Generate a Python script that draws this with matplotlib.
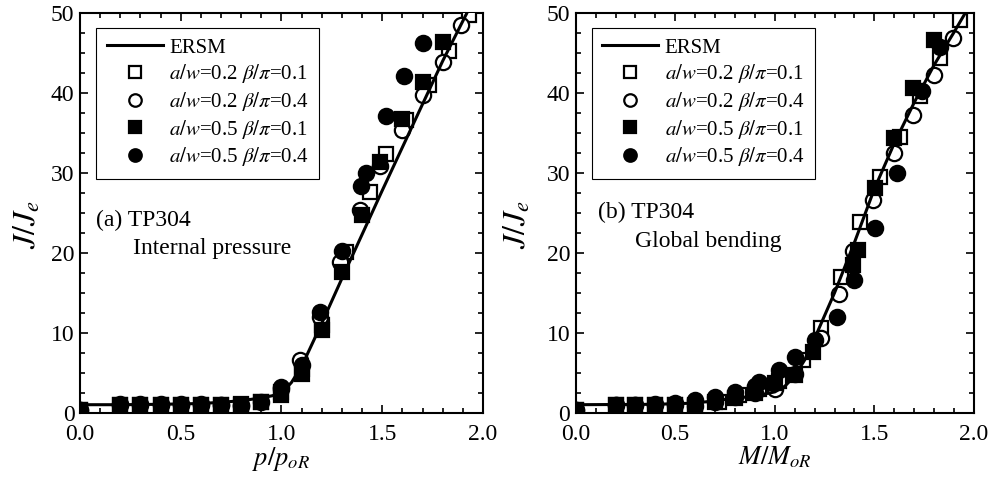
# J/Je vs load ratio, TP304 pipe, ERSM vs FE results
import matplotlib
matplotlib.use('Agg')
import matplotlib.pyplot as plt
from matplotlib.ticker import MultipleLocator

plt.rcParams['font.family'] = 'Liberation Serif'
plt.rcParams['mathtext.fontset'] = 'stix'

labels = ['ERSM',
          r'$a/w$=0.2 $\beta/\pi$=0.1',
          r'$a/w$=0.2 $\beta/\pi$=0.4',
          r'$a/w$=0.5 $\beta/\pi$=0.1',
          r'$a/w$=0.5 $\beta/\pi$=0.4']

# (a) internal pressure
ersm_a_x = [0.0, 0.2, 0.4, 0.6, 0.7, 0.8, 0.9, 0.95, 1.0, 1.05, 1.1, 1.15, 1.2, 1.3, 1.4, 1.5, 1.6, 1.7, 1.8, 1.9, 1.96]
ersm_a_y = [1.0, 1.0, 1.05, 1.15, 1.3, 1.5, 1.85, 2.1, 2.4, 3.8, 5.8, 8.5, 11.2, 16.8, 22.3, 27.8, 33.2, 38.6, 44.0, 49.0, 52.0]

sq02_a_x = [0.0, 0.2, 0.3, 0.4, 0.5, 0.6, 0.7, 0.8, 0.9, 1.0, 1.1, 1.2, 1.32, 1.44, 1.52, 1.62, 1.73, 1.83, 1.93]
sq02_a_y = [0.3, 1.0, 1.0, 1.0, 1.0, 1.0, 1.0, 1.1, 1.3, 2.6, 5.5, 11.0, 20.1, 27.6, 32.3, 36.6, 41.0, 45.2, 49.8]
ci02_a_x = [0.0, 0.2, 0.3, 0.4, 0.5, 0.6, 0.7, 0.8, 0.9, 1.0, 1.09, 1.19, 1.29, 1.39, 1.49, 1.6, 1.7, 1.8, 1.89]
ci02_a_y = [0.3, 1.0, 1.0, 1.0, 1.0, 1.0, 1.0, 1.0, 1.3, 3.0, 6.6, 12.0, 18.9, 25.4, 30.8, 35.4, 39.8, 43.9, 48.5]
sq05_a_x = [0.0, 0.2, 0.3, 0.4, 0.5, 0.6, 0.7, 0.8, 0.9, 1.0, 1.1, 1.2, 1.3, 1.4, 1.49, 1.6, 1.7, 1.8]
sq05_a_y = [0.3, 1.0, 1.0, 1.0, 1.0, 1.0, 1.0, 1.0, 1.3, 2.2, 4.9, 10.4, 17.6, 24.7, 31.4, 36.8, 41.4, 46.4]
ci05_a_x = [0.0, 0.2, 0.3, 0.4, 0.5, 0.6, 0.7, 0.8, 1.0, 1.1, 1.19, 1.3, 1.395, 1.42, 1.52, 1.61, 1.7]
ci05_a_y = [0.3, 1.1, 1.1, 1.1, 1.1, 1.1, 1.0, 0.9, 3.2, 6.0, 12.6, 20.2, 28.3, 30.0, 37.1, 42.1, 46.2]

# (b) global bending
ersm_b_x = [0.0, 0.4, 0.6, 0.8, 0.9, 1.0, 1.05, 1.1, 1.15, 1.2, 1.3, 1.4, 1.5, 1.6, 1.7, 1.8, 1.9, 1.98]
ersm_b_y = [1.0, 1.05, 1.2, 1.8, 2.1, 2.6, 3.3, 4.6, 6.6, 9.3, 15.0, 21.3, 28.0, 33.7, 38.8, 43.5, 47.6, 51.0]

sq02_b_x = [0.0, 0.2, 0.3, 0.4, 0.5, 0.6, 0.72, 0.82, 0.92, 1.02, 1.14, 1.23, 1.33, 1.43, 1.53, 1.63, 1.73, 1.83, 1.93]
sq02_b_y = [0.3, 1.0, 1.0, 1.0, 1.0, 0.9, 1.3, 2.2, 3.0, 4.0, 6.6, 10.6, 17.0, 23.8, 29.5, 34.5, 39.6, 44.4, 49.1]
ci02_b_x = [0.0, 0.2, 0.3, 0.4, 0.5, 0.6, 0.7, 0.8, 0.9, 1.0, 1.1, 1.23, 1.32, 1.395, 1.495, 1.596, 1.696, 1.797, 1.896]
ci02_b_y = [0.3, 1.0, 1.0, 1.0, 1.0, 0.9, 1.3, 2.0, 2.5, 3.0, 4.8, 9.3, 14.9, 20.2, 26.6, 32.5, 37.3, 42.3, 46.9]
sq05_b_x = [0.0, 0.2, 0.3, 0.4, 0.5, 0.6, 0.7, 0.8, 0.9, 1.0, 1.1, 1.19, 1.395, 1.42, 1.504, 1.596, 1.696, 1.797]
sq05_b_y = [0.3, 1.0, 1.0, 1.0, 1.0, 1.0, 1.3, 1.9, 2.5, 3.7, 4.7, 7.6, 18.5, 20.4, 28.1, 34.3, 40.6, 46.6]
ci05_b_x = [0.0, 0.2, 0.3, 0.4, 0.5, 0.6, 0.7, 0.8, 0.9, 0.92, 1.02, 1.1, 1.2, 1.31, 1.4, 1.504, 1.613, 1.739, 1.83]
ci05_b_y = [0.3, 1.0, 1.0, 1.1, 1.2, 1.6, 2.0, 2.6, 3.4, 3.9, 5.3, 7.0, 9.1, 12.0, 16.6, 23.1, 30.0, 40.2, 45.8]


def draw_panel(ax, ersm_x, ersm_y, series, xlabel, title1, title2, t1_pos, t2_pos, ylab_x):
    ax.plot(ersm_x, ersm_y, color='k', lw=2.2, zorder=4, label=labels[0])
    styles = [('s', 'white'), ('o', 'white'), ('s', 'k'), ('o', 'k')]
    for (sx, sy), (mk, fc), lab in zip(series, styles, labels[1:]):
        ms = 11 if mk == 'o' else 9.5
        ax.plot(sx, sy, ls='none', marker=mk, ms=ms, mfc=fc, mec='k', mew=1.6,
                zorder=3, label=lab)

    ax.set_xlim(0, 2.0)
    ax.set_ylim(0, 50)
    ax.xaxis.set_major_locator(MultipleLocator(0.5))
    ax.xaxis.set_minor_locator(MultipleLocator(0.1))
    ax.yaxis.set_major_locator(MultipleLocator(10))
    ax.yaxis.set_minor_locator(MultipleLocator(2.5))
    ax.xaxis.set_major_formatter(plt.FormatStrFormatter('%.1f'))
    ax.tick_params(which='both', direction='in', top=True, right=True, labelsize=17, width=1.2)
    ax.tick_params(which='major', length=6)
    ax.tick_params(axis='x', which='major', pad=8)
    ax.tick_params(axis='y', which='major', pad=4)
    ax.tick_params(which='minor', length=3.5)
    for sp in ax.spines.values():
        sp.set_linewidth(1.5)

    ax.set_xlabel(xlabel, fontsize=19, labelpad=0)
    ax.set_ylabel(r'$J/J_e$', fontsize=23)
    ax.yaxis.set_label_coords(ylab_x, 0.47)

    ax.text(t1_pos[0], t1_pos[1], title1, fontsize=17, va='center', ha='left')
    ax.text(t2_pos[0], t2_pos[1], title2, fontsize=17, va='center', ha='left')

    leg = ax.legend(loc='upper left', bbox_to_anchor=(0.04, 0.963), fontsize=15,
                    fancybox=False, edgecolor='k', framealpha=1, handlelength=2.7,
                    handletextpad=0.3, borderpad=0.5, labelspacing=0.22, borderaxespad=0)
    leg.get_frame().set_linewidth(0.8)
    for h in leg.legend_handles[1:]:
        h.set_markersize(9)


fig = plt.figure(figsize=(9.91, 4.88), dpi=100)
ax1 = fig.add_axes([0.0807, 0.1543, 0.4067, 0.8191])
ax2 = fig.add_axes([0.5809, 0.1543, 0.4019, 0.8191])

draw_panel(ax1, ersm_a_x, ersm_a_y,
           [(sq02_a_x, sq02_a_y), (ci02_a_x, ci02_a_y), (sq05_a_x, sq05_a_y), (ci05_a_x, ci05_a_y)],
           r'$p/p_{oR}$', '(a) TP304', 'Internal pressure', (0.08, 24.1), (0.265, 20.6), -0.092)
draw_panel(ax2, ersm_b_x, ersm_b_y,
           [(sq02_b_x, sq02_b_y), (ci02_b_x, ci02_b_y), (sq05_b_x, sq05_b_y), (ci05_b_x, ci05_b_y)],
           r'$M/M_{oR}$', '(b) TP304', 'Global bending', (0.11, 25.0), (0.30, 21.4), -0.107)

fig.savefig('out.png', dpi=100)
